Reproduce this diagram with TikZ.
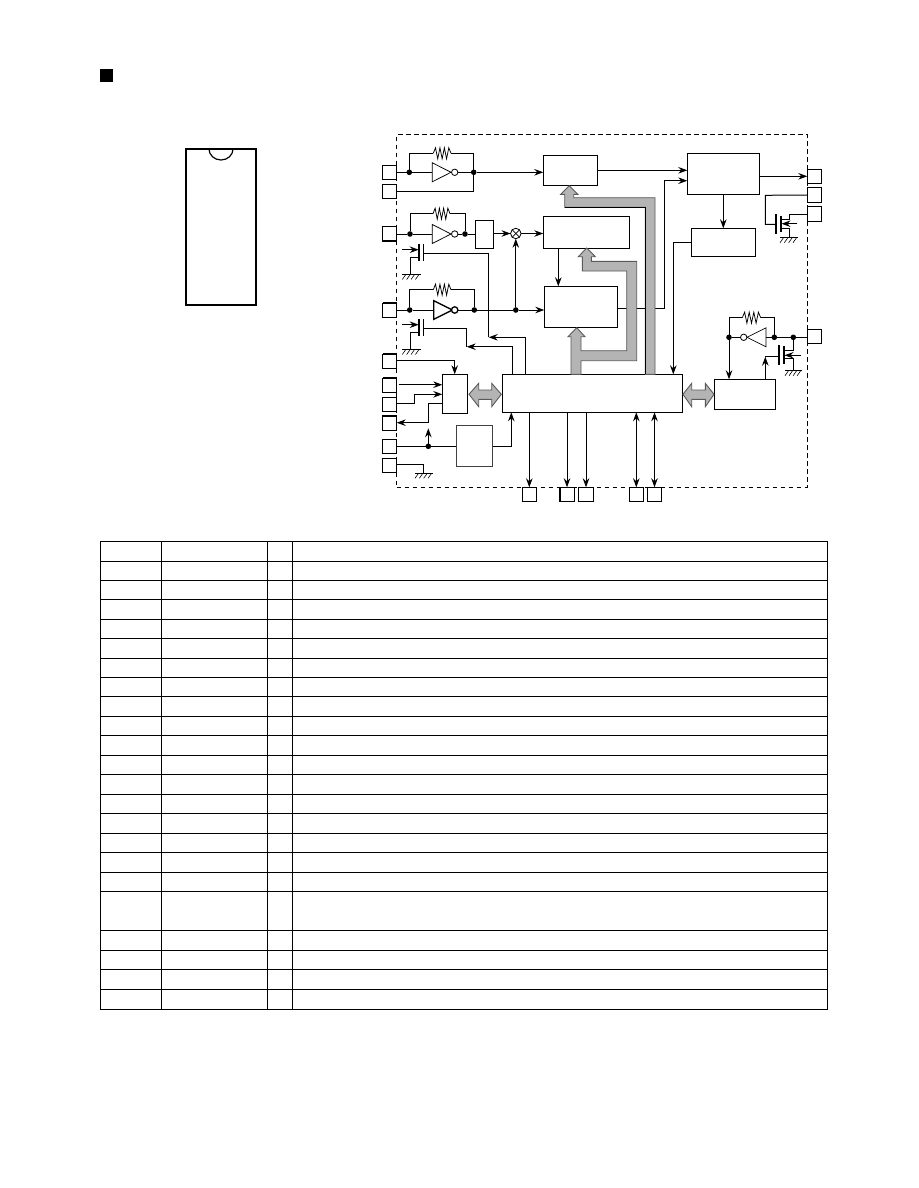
\documentclass[tikz,border=0pt]{standalone}
\usetikzlibrary{arrows.meta}
\definecolor{busfill}{HTML}{B4B4B4}
\definecolor{busedge}{HTML}{5A5A5A}
\tikzset{
  wire/.style={line width=1pt},
  conn/.style={wire,-{Stealth[length=9pt,width=6.5pt,inset=3pt]}},
  bothconn/.style={wire,{Stealth[length=9pt,width=6.5pt,inset=3pt]}-{Stealth[length=9pt,width=6.5pt,inset=3pt]}},
  boxn/.style={draw,line width=1pt,inner sep=0pt,outer sep=0pt,fill=white},
  jdot/.style={circle,fill=black,inner sep=0pt,outer sep=0pt,minimum size=5.6pt},
  bubble/.style={circle,draw,fill=white,inner sep=0pt,outer sep=0pt,minimum size=6.4pt,line width=0.8pt},
  sym/.style={line width=0.75pt,line join=miter},
  bus/.style={fill=busfill,draw=busedge,line width=0.9pt,line join=miter},
  tbl/.style={line width=1pt},
  plate/.style={line width=1.6pt},
}
% [options]{name}{x1}{y1}{x2}{y2}
\newcommand{\bx}[6][]{%
  \pgfmathsetmacro\bxw{#5-#3}\pgfmathsetmacro\bxh{#6-#4}%
  \pgfmathsetmacro\bxcx{(#3+#5)/2}\pgfmathsetmacro\bxcy{(#4+#6)/2}%
  \node[boxn,minimum width=\bxw pt,minimum height=\bxh pt,#1] (#2) at (\bxcx,\bxcy) {};}
% {name}{x1}{x2}{y}
\newcommand{\resist}[4]{%
  \pgfmathsetmacro\rs{(#3-#2)/8}%
  \coordinate (#1l) at (#2,#4);\coordinate (#1r) at (#3,#4);
  \draw[sym] (#2,#4)
    -- ++(\rs,-5.5) -- ++(\rs,11) -- ++(\rs,-11) -- ++(\rs,11)
    -- ++(\rs,-11) -- ++(\rs,11) -- ++(\rs,-11) -- ++(\rs,5.5);}
% [options]{name}{xbase}{xtip}{y}{half height}{bubble x}
\newcommand{\invt}[7][]{%
  \draw[sym,#1] (#3,#5-#6) -- (#4,#5) -- (#3,#5+#6) -- cycle;
  \coordinate (#2i) at (#3,#5);
  \node[bubble,#1] (#2b) at (#7,#5) {};}
% {xl}{xr}{y}
\newcommand{\gnd}[3]{%
  \draw[line width=0.8pt] (#1,#3) -- (#2,#3);
  \foreach \gi in {0,1,2,3}{\pgfmathsetmacro\gx{#1+3.5+\gi*(#2-#1-3.5)/3.4}
    \draw[line width=0.6pt] (\gx,#3) -- ++(-3.5,5);}}
\begin{document}
\begin{tikzpicture}[x=1pt,y=-1pt]
\useasboundingbox (0,0) rectangle (918,1188);
\fill[white] (0,0) rectangle (918,1188);
% title bullet
\fill[black] (100,69) rectangle (113,82);
% package outline
\draw[line width=2pt] (185.7,148.7) rectangle (256,305);
\draw[line width=1.2pt] (209,149) arc[start angle=180,end angle=0,x radius=12,y radius=11];
% dashed outline
\node[draw,dash pattern=on 4.5pt off 3.5pt,line width=1pt,inner sep=0pt,outer sep=0pt,minimum width=410.6pt,minimum height=352.8pt] (frame) at (602,310.9) {};
% pins
\bx{p1}{382.5}{165.7}{396.7}{179.3}
\bx{p2}{382.5}{184.3}{396.7}{198}
\bx{p3}{382.5}{226.7}{396.7}{241}
\bx{p4}{382.5}{303}{396.7}{317.3}
\bx{p5}{382.5}{354}{396.7}{368.3}
\bx{p6}{382.5}{378}{396.7}{392.3}
\bx{p7}{382.5}{397.3}{396.7}{411}
\bx{p8}{382.5}{415.7}{396.7}{430}
\bx{p9}{382.5}{439.3}{396.7}{453}
\bx{p10}{382.5}{458.3}{396.7}{472.3}
\bx{b1}{522.3}{487.3}{536.3}{501.3}
\bx{b2}{559.7}{487.3}{574.3}{501.3}
\bx{b3}{578.7}{487.3}{593.3}{501.3}
\bx{b4}{629.3}{487.3}{643.3}{501.3}
\bx{b5}{647.3}{487.3}{661.7}{501.3}
\bx{r1}{807.3}{169.3}{821.3}{183.3}
\bx{r2}{807.3}{187.3}{821.3}{202.7}
\bx{r3}{807.3}{206.3}{821.3}{221.7}
\bx{r4}{807.3}{329.3}{821.3}{343.7}
% heavier pin edges
\draw[line width=1.6pt] (p3.south west) -- (p3.south east);
\draw[line width=1.6pt] (p4.north west) -- (p4.north east);
\draw[line width=1.6pt] (p5.north west) -- (p5.north east);
\draw[line width=1.6pt] (p6.north west) -- (p6.north east);
\draw[line width=1.6pt] (p8.north west) -- (p8.north east);
\draw[line width=1.6pt] (b2.north west) -- (b2.south west);
% blocks
\bx{A}{543.3}{155.3}{597.7}{185.3}
\bx{B}{543.3}{216.3}{629.3}{248.3}
\bx{C}{544.3}{286.3}{617.3}{327.3}
\bx{D}{687.3}{153.3}{759.3}{194.3}
\bx{E}{691.3}{228.3}{755.3}{256.3}
\bx{F}{475.3}{220.3}{493.7}{248.3}
\bx{G}{502.3}{374.3}{682.3}{412.3}
\bx{H}{442.3}{374.3}{467.7}{413.3}
\bx[draw=black!75]{I}{456}{425}{492.7}{466.3}
\bx{J}{714.3}{379.3}{775.7}{409.3}
% junctions
\node[jdot] (j1a) at (409.3,172.3) {};
\node[jdot] (j1b) at (473.7,172.3) {};
\node[jdot] (j3a) at (410,234) {};
\node[jdot] (j3b) at (465,234) {};
\node[jdot] (j4a) at (409.7,310) {};
\node[jdot] (j4b) at (474.3,310) {};
\node[jdot] (j4c) at (515.8,310) {};
\node[jdot] (j9) at (428.3,446.3) {};
\node[jdot] (jra) at (729,337.3) {};
\node[jdot] (jrb) at (774.3,337.3) {};
\node[jdot] (jrc) at (793.3,337.3) {};
% mixer
\node[circle,draw,fill=white,inner sep=0pt,outer sep=0pt,minimum size=10.5pt,line width=0.8pt] (M) at (515.8,233.5) {};
\draw[line width=0.7pt] (M.north east) -- (M.south west);
\draw[line width=0.7pt] (M.north west) -- (M.south east);
% inverter 1
\invt{V1}{432.3}{451}{172.3}{9.5}{454.7}
\resist{R1}{433.3}{451}{153.3}
\draw[wire] (p1.east |- j1a) -- (j1a) -- (V1i);
\draw[wire] (V1b) -- (j1b);
\draw[conn] (j1b) -- (A.west |- j1b);
\draw[wire] (j1a) |- (R1l);
\draw[wire] (R1r) -| (j1b);
\draw[wire] (p2.east) -| (j1b);
% inverter 2
\invt{V2}{432.3}{451}{234}{9.5}{454.7}
\resist{R2}{433}{450}{213.7}
\draw[wire] (p3.east |- j3a) -- (j3a) -- (V2i);
\draw[wire] (V2b) -- (j3b) -- (F.west |- j3b);
\draw[wire] (j3a) |- (R2l);
\draw[wire] (R2r) -| (j3b);
\draw[conn] (F.east |- M) -- (M);
\draw[conn] (M) -- (B.west |- M);
% inverter 3
\invt[line width=1.3pt]{V3}{433.7}{452.3}{310}{9.3}{454.7}
\resist{R3}{433.3}{451}{289.7}
\draw[wire] (p4.east |- j4a) -- (j4a) -- (V3i);
\draw[wire] (V3b) -- (j4b) -- (j4c);
\draw[conn] (j4c) -- (C.west |- j4c);
\draw[conn] (j4c) -- (M);
\draw[wire] (j4a) |- (R3l);
\draw[wire] (R3r) -| (j4b);
% varicap 1
\coordinate (c1p) at (418.7,252.7);
\coordinate (c1q) at (423.3,252.7);
\draw[plate] (418.7,244.3) -- (418.7,261);
\draw[plate] (423.3,244.3) -- (423.3,261);
\coordinate (c1in) at (402.3,249.7);
\coordinate (c1g) at (410,274.5);
\draw[conn] (c1in) -- (c1p |- c1in);
\draw[wire] (418.7,257.3) -| (c1g);
\gnd{402.3}{420.7}{274.5}
\coordinate (t1) at (488.7,337.3);
\coordinate (t1a) at (488.7,253.3);
\draw[wire] (c1q |- t1a) -- (t1a) -- (t1);
\coordinate (t1b) at (525.3,337.3);
\draw[conn] (G.north -| t1b) -- (t1b) -- (t1);
% varicap 2
\coordinate (c2p) at (418.7,328);
\draw[plate] (418.7,319.3) -- (418.7,336);
\draw[plate] (423.3,319.3) -- (423.3,336);
\coordinate (c2in) at (402.3,324.7);
\coordinate (c2g) at (410.3,349.5);
\draw[conn] (c2in) -- (c2p |- c2in);
\draw[wire] (418.7,332.7) -| (c2g);
\gnd{402.3}{420.7}{349.5}
\coordinate (t2) at (466.7,346.7);
\coordinate (t2a) at (466.7,328.3);
\draw[wire] (423.3,328.3) -- (t2a) -- (t2);
\coordinate (t2b) at (512.7,346.7);
\draw[conn] (G.north -| t2b) -- (t2b) -- (t2);
% H connections
\coordinate (h5) at (454.7,360.3);
\draw[conn] (p5.east |- h5) -- (h5) -- (H.north -| h5);
\coordinate (h6) at (398.5,384.7);
\draw[conn] (h6) -- (H.west |- h6);
\coordinate (h7a) at (414.3,403.7);
\coordinate (h7b) at (414.3,394.3);
\draw[conn] (p7.east |- h7a) -- (h7a) -- (h7b) -- (H.west |- h7b);
\coordinate (h8a) at (428.3,403.3);
\coordinate (h8b) at (428.3,422.7);
\draw[conn] (H.west |- h8a) -- (h8a) -- (h8b) -- (p8.east |- h8b);
% I connections
\draw[wire] (p9.east |- j9) -- (j9) -- (I.west |- j9);
\coordinate (k9) at (428.3,428.3);
\draw[conn,line width=1.2pt] (j9) -- (k9);
\coordinate (k1) at (511.3,446.3);
\draw[conn] (I.east |- k1) -- (k1) -- (G.south -| k1);
\coordinate (k10) at (423.7,464.3);
\draw[wire] (p10.east |- k10) -- (k10) -- (423.7,473.3);
\gnd{415}{433.3}{473.3}
% bottom lines
\draw[conn] (G.south -| b1) -- (b1.north);
\draw[conn] (G.south -| b2) -- (b2.north);
\draw[conn] (G.south -| b3) -- (b3.north);
\draw[bothconn] (G.south -| b4) -- (b4.north);
\draw[bothconn] (G.south -| b5) -- (b5.north);
% block links
\coordinate (a1) at (640,170.3);
\draw[conn] (A.east |- a1) -- (D.west |- a1);
\coordinate (c3) at (664.3,308.3);
\coordinate (c4) at (664.3,180.7);
\draw[conn] (C.east |- c3) -- (c3) -- (c4) -- (D.west |- c4);
\coordinate (bc) at (558.3,250);
\draw[conn] (B.south -| bc) -- (C.north -| bc);
\coordinate (d1) at (780,176.3);
\draw[conn] (D.east |- d1) -- (r1.west |- d1);
\draw[conn] (D.south) -- (E.north);
\coordinate (e1) at (673.3,242.3);
\draw[conn] (E.west) -- (e1) -- (G.north -| e1);
% MOSFET top right
\coordinate (m1) at (765.3,195.3);
\coordinate (m2) at (765.3,224.3);
\draw[wire] (r2.west) -- (m1) -- (m2) -- (775.7,224.3);
\draw[line width=1.6pt] (775.7,214) -- (775.7,233.7);
\draw[line width=1.6pt] (780.7,215.7) -- (780.7,232.3);
\coordinate (m3) at (789.3,219.3);
\coordinate (m4) at (789.3,214.3);
\draw[wire] (780.7,219.3) -- (m3) -- (m4) -- (r3.west |- m4);
\coordinate (m5) at (789.3,237.7);
\draw[wire] (780.7,228.7) -| (m5);
\gnd{780}{798.3}{237.7}
\coordinate (m6) at (797.3,223.7);
\draw[conn] (m6) -- (781.5,223.7);
% right inverter
\invt{V4}{766}{747}{337.3}{9.5}{743.7}
\resist{R4}{742.3}{760.7}{317.7}
\draw[wire] (r4.west |- jrc) -- (jrc) -- (jrb) -- (V4i);
\draw[wire] (V4b) -- (jra);
\draw[wire] (jra) |- (R4l);
\draw[wire] (R4r) -| (jrb);
\draw[conn] (jra) -- (J.north -| jra);
% MOSFET lower right
\coordinate (n1) at (765.3,356.7);
\draw[conn] (J.north -| n1) -- (n1);
\draw[wire] (n1) -- (779,356.7);
\draw[line width=1.6pt] (779,345) -- (779,365.3);
\draw[line width=1.6pt] (783.7,346) -- (783.7,364);
\draw[wire] (783.7,350.7) -| (jrc);
\coordinate (n2) at (793.3,370.7);
\draw[wire] (783.7,358.7) -| (n2);
\gnd{785}{802.3}{370.7}
\coordinate (n3) at (801,355.3);
\draw[conn] (n3) -- (784.5,355.3);
% buses
\draw[bus] (655,374.3) -- (655,197.7) -- (573.7,197.7) -- (573.7,194.3) -- (577.7,194.3) -- (569.3,185.7)
  -- (560.7,194.3) -- (564.7,194.3) -- (564.7,207.3) -- (645.3,207.3) -- (645.3,374.3) -- cycle;
\draw[line width=0.9pt] (564.7,207.3) -- (645.3,207.3) -- (645.3,374.3);
\draw[bus] (626.7,271) -- (582.3,271) -- (582.3,256.7) -- (578.3,256.7) -- (586.7,248) -- (595.3,256.7)
  -- (591.3,256.7) -- (591.3,261.3) -- (636.7,261.3) -- (636.7,360.7) -- (581,360.7) -- (581,374.3)
  -- (571,374.3) -- (571,336.7) -- (568,336.7) -- (576.7,327.7) -- (585,336.7) -- (581,336.7)
  -- (581,350.7) -- (626.7,350.7) -- cycle;
\draw[bus] (469,394.3) -- (478.7,383.3) -- (478.7,390) -- (491.7,390) -- (491.7,383.3) -- (501.3,394.3)
  -- (491.7,406.7) -- (491.7,399.3) -- (478.7,399.3) -- (478.7,406.7) -- cycle;
\draw[bus] (682.9,394.3) -- (691.7,383.3) -- (691.7,390) -- (705.3,390) -- (705.3,383.3) -- (714,394.3)
  -- (705.3,406.7) -- (705.3,399.3) -- (691.7,399.3) -- (691.7,406.7) -- cycle;
% table
\foreach \ty in {541.3,561,580,599.5,619.3,638.5,658.3,677.3,696.8,716.3,735.8,755.3,774.8,794.3,813.8,833.3,852.8,872.3,891.3,930.3,950.3,969.3,989.3,1009}
  \draw[tbl] (100.3,\ty) -- (827.5,\ty);
\foreach \tx in {100.3,161.3,267.3,292.3,827.5}
  \draw[tbl] (\tx,541.3) -- (\tx,1009);
\end{tikzpicture}
\end{document}
